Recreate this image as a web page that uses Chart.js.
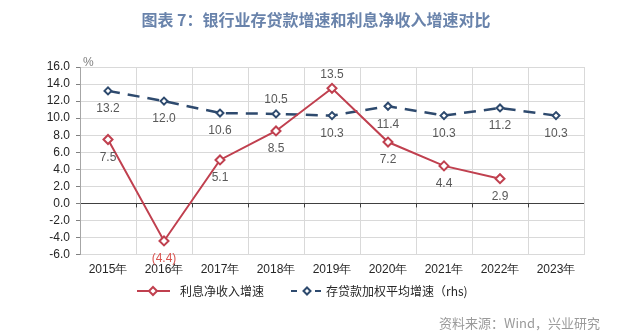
<!DOCTYPE html>
<html>
<head>
<meta charset="utf-8">
<script src="https://cdn.jsdelivr.net/npm/chart.js@4.4.0/dist/chart.umd.min.js"></script>
<style>
  body { margin: 0; background: #fff; }
  #wrap { position: relative; width: 640px; height: 336px; }
  #title { position: absolute; left: 0; top: 7px; width: 632px; text-align: center;
    font: bold 16px "Noto Sans CJK SC", sans-serif; color: #6983AB; }
  #source { position: absolute; right: 40px; top: 313px;
    font: 13px "Noto Sans CJK SC", sans-serif; color: #9a9a9a; }
  #chartBox { position: absolute; left: 0; top: 0; width: 640px; height: 336px; }
</style>
</head>
<body>
<div id="wrap">
  <div id="chartBox"><canvas id="myChart"></canvas></div>
  <div id="title">图表 7：银行业存贷款增速和利息净收入增速对比</div>
  <div id="source">资料来源：Wind，兴业研究</div>
</div>
<script>
var years = ['2015年', '2016年', '2017年', '2018年', '2019年', '2020年', '2021年', '2022年', '2023年'];
var netInterest = [7.5, -4.4, 5.1, 8.5, 13.5, 7.2, 4.4, 2.9, null];
var depositLoan = [13.2, 12.0, 10.6, 10.5, 10.3, 11.4, 10.3, 11.2, 10.3];
var netInterestName = '利息净收入增速';
var depositLoanName = '存贷款加权平均增速（rhs)';

var redColor = '#C0404F';
var navyColor = '#2E4A6E';

// labels drawn above the point instead of below
var netAbove = [false, false, false, false, true, false, false, false, false];
var depAbove = [false, false, false, true, false, false, false, false, false];

var extras = {
  id: 'extras',
  afterDatasetsDraw: function(chart) {
    var ctx = chart.ctx;
    var x = chart.scales.x, y = chart.scales.y;
    var area = chart.chartArea;
    ctx.save();
    // small ticks under zero line
    var y0 = y.getPixelForValue(0);
    ctx.strokeStyle = '#404040';
    ctx.lineWidth = 1;
    for (var i = 1; i < years.length; i++) {
      var bx = Math.round(area.left + (area.right - area.left) * i / years.length) + 0.5;
      ctx.beginPath();
      ctx.moveTo(bx, y0);
      ctx.lineTo(bx, y0 + 4);
      ctx.stroke();
    }
    // % unit
    ctx.font = '12px "Liberation Sans", sans-serif';
    ctx.fillStyle = '#808080';
    ctx.textAlign = 'left';
    ctx.textBaseline = 'bottom';
    ctx.fillText('%', area.left + 3, area.top + 2);

    // data labels
    ctx.textAlign = 'center';
    ctx.textBaseline = 'middle';
    ctx.font = '12px "Liberation Sans", sans-serif';
    function labels(dsIndex, values, above) {
      var meta = chart.getDatasetMeta(dsIndex);
      values.forEach(function(v, i) {
        if (v === null) return;
        var pt = meta.data[i];
        var txt = v < 0 ? '(' + Math.abs(v).toFixed(1) + ')' : v.toFixed(1);
        ctx.fillStyle = v < 0 ? '#D9534F' : '#595959';
        ctx.fillText(txt, pt.x, above[i] ? pt.y - 14 : pt.y + 18);
      });
    }
    labels(0, netInterest, netAbove);
    labels(1, depositLoan, depAbove);

    // legend
    var ly = 291;
    ctx.lineWidth = 2;
    ctx.strokeStyle = redColor;
    ctx.beginPath();
    ctx.moveTo(137, ly); ctx.lineTo(170, ly); ctx.stroke();
    drawDiamond(ctx, 153, ly, 4, redColor);
    ctx.strokeStyle = navyColor;
    ctx.setLineDash([6, 6]);
    ctx.beginPath();
    ctx.moveTo(291, ly); ctx.lineTo(324, ly); ctx.stroke();
    ctx.setLineDash([]);
    drawDiamond(ctx, 307, ly, 3.5, navyColor);
    ctx.fillStyle = '#262626';
    ctx.textAlign = 'left';
    ctx.font = '12px "Noto Sans CJK SC", sans-serif';
    ctx.fillText(netInterestName, 180, ly);
    ctx.fillText(depositLoanName, 326, ly);
    ctx.restore();
  }
};

function drawDiamond(ctx, cx, cy, r, color) {
  ctx.save();
  ctx.setLineDash([]);
  ctx.beginPath();
  ctx.moveTo(cx, cy - r); ctx.lineTo(cx + r, cy); ctx.lineTo(cx, cy + r); ctx.lineTo(cx - r, cy);
  ctx.closePath();
  ctx.fillStyle = '#fff';
  ctx.fill();
  ctx.lineWidth = 2;
  ctx.strokeStyle = color;
  ctx.stroke();
  ctx.restore();
}

var config = {
  type: 'line',
  data: {
    labels: years,
    datasets: [{
      label: netInterestName,
      data: netInterest,
      borderColor: redColor,
      borderWidth: 2,
      pointStyle: 'rectRot',
      pointRadius: 4.5,
      pointBorderWidth: 2,
      pointBackgroundColor: '#fff',
      pointBorderColor: redColor,
      tension: 0
    }, {
      label: depositLoanName,
      data: depositLoan,
      borderColor: navyColor,
      borderWidth: 2.5,
      borderDash: [12, 8],
      pointStyle: 'rectRot',
      pointRadius: 3.5,
      pointBorderWidth: 2,
      pointBackgroundColor: '#fff',
      pointBorderColor: navyColor,
      tension: 0
    }]
  },
  options: {
    responsive: true,
    maintainAspectRatio: false,
    animation: false,
    events: [],
    layout: { padding: { left: 0, right: 56, top: 67, bottom: 51 } },
    plugins: {
      legend: { display: false },
      tooltip: { enabled: false }
    },
    scales: {
      x: {
        offset: true,
        grid: { color: '#D9D9D9', offset: true, drawTicks: false },
        border: { display: false },
        ticks: {
          color: '#262626',
          font: { family: '"Liberation Sans", sans-serif', size: 12 },
          padding: 8,
          maxRotation: 0
        }
      },
      y: {
        min: -6,
        max: 16,
        afterFit: function(scale) { scale.width = 80; },
        grid: {
          color: function(c) { return c.tick && c.tick.value === 0 ? '#404040' : '#D9D9D9'; },
          tickLength: 4,
          tickColor: '#808080'
        },
        border: { color: '#A6A6A6' },
        ticks: {
          stepSize: 2,
          autoSkip: false,
          color: '#262626',
          font: { family: '"Liberation Sans", sans-serif', size: 12 },
          padding: 6,
          callback: function(v) { return v.toFixed(1); }
        }
      }
    }
  },
  plugins: [extras]
};

window.onload = function() {
  window.myChart = new Chart(document.getElementById('myChart'), config);
};
</script>
</body>
</html>
